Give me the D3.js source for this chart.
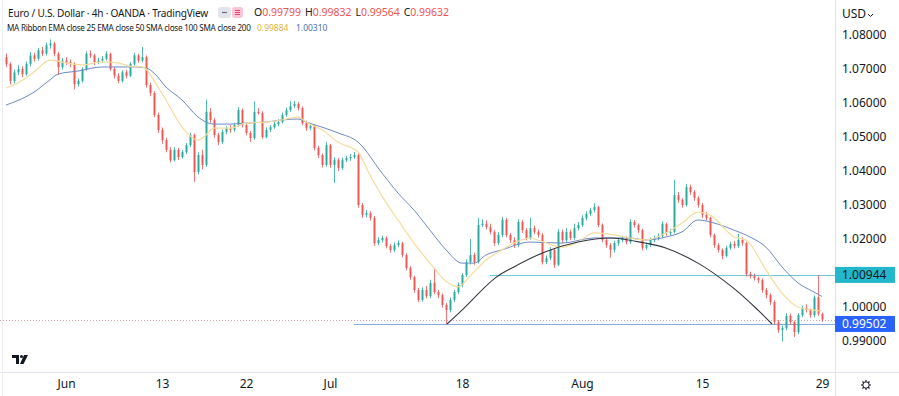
<!DOCTYPE html>
<html>
<head>
<meta charset="utf-8">
<script src="https://cdn.jsdelivr.net/npm/d3@7"></script>
<style>
  body { margin: 0; background: #ffffff; }
  svg { display: block; font-family: "Noto Sans", sans-serif; }
</style>
</head>
<body>
<svg id="chart" width="899" height="396"></svg>
<script>
// EUR/USD 4h candles (one bar every third of a trading day), 25 May -> 29 Aug
const firstOpen = 1.0735;
const closes = [
  1.0715,1.0665,1.0690,1.0700,1.0685,1.0715,1.0740,1.0730,1.0755,1.0745,
  1.0770,1.0775,1.0745,1.0705,1.0725,1.0720,1.0715,1.0655,1.0665,1.0700,
  1.0745,1.0740,1.0720,1.0725,1.0730,1.0745,1.0700,1.0680,1.0665,1.0690,
  1.0680,1.0715,1.0740,1.0725,1.0735,1.0653,1.0629,1.0565,1.0521,1.0491,
  1.0462,1.0432,1.0462,1.0441,1.0456,1.0476,1.0506,1.0397,1.0447,1.0418,
  1.0574,1.0550,1.0506,1.0485,1.0515,1.0526,1.0521,1.0535,1.0579,1.0535,
  1.0512,1.0497,1.0574,1.0570,1.0500,1.0521,1.0529,1.0538,1.0544,1.0565,
  1.0579,1.0591,1.0597,1.0585,1.0541,1.0526,1.0532,1.0468,1.0447,1.0418,
  1.0476,1.0418,1.0432,1.0409,1.0432,1.0438,1.0441,1.0447,1.0300,1.0271,
  1.0276,1.0262,1.0188,1.0197,1.0203,1.0179,1.0168,1.0182,1.0188,1.0153,
  1.0115,1.0088,1.0050,1.0021,1.0050,1.0032,1.0071,1.0044,1.0035,1.0006,
  0.9991,1.0021,1.0044,1.0065,1.0094,1.0132,1.0153,1.0132,1.0241,1.0245,
  1.0235,1.0221,1.0188,1.0212,1.0256,1.0212,1.0197,1.0182,1.0250,1.0226,
  1.0203,1.0232,1.0221,1.0212,1.0132,1.0144,1.0168,1.0124,1.0221,1.0197,
  1.0221,1.0203,1.0232,1.0241,1.0262,1.0274,1.0285,1.0294,1.0241,1.0197,
  1.0182,1.0168,1.0188,1.0197,1.0203,1.0191,1.0250,1.0241,1.0226,1.0174,
  1.0182,1.0197,1.0203,1.0209,1.0244,1.0218,1.0221,1.0329,1.0315,1.0300,
  1.0353,1.0338,1.0321,1.0300,1.0271,1.0262,1.0212,1.0182,1.0168,1.0150,
  1.0174,1.0185,1.0179,1.0197,1.0188,1.0097,1.0091,1.0085,1.0079,1.0050,
  1.0035,1.0015,0.9956,0.9932,0.9938,0.9974,0.9956,0.9926,0.9976,0.9997,
  0.9991,0.9976,1.0028,0.9980,0.99632
];
const highs = [
  1.0745,1.0720,1.0698,1.0712,1.0708,1.0722,1.0750,1.0748,1.0762,1.0765,
  1.0778,1.0787,1.0780,1.0750,1.0732,1.0735,1.0728,1.0720,1.0672,1.0705,
  1.0752,1.0755,1.0745,1.0733,1.0738,1.0752,1.0748,1.0706,1.0688,1.0696,
  1.0698,1.0720,1.0748,1.0745,1.0765,1.0740,1.0660,1.0635,1.0572,1.0528,
  1.0498,1.0470,1.0470,1.0468,1.0462,1.0482,1.0512,1.0510,1.0455,1.0462,
  1.0610,1.0585,1.0556,1.0512,1.0522,1.0532,1.0535,1.0542,1.0588,1.0584,
  1.0540,1.0518,1.0605,1.0585,1.0576,1.0528,1.0535,1.0545,1.0552,1.0572,
  1.0586,1.0605,1.0606,1.0603,1.0590,1.0548,1.0540,1.0536,1.0474,1.0452,
  1.0485,1.0480,1.0440,1.0438,1.0440,1.0445,1.0450,1.0456,1.0452,1.0306,
  1.0285,1.0282,1.0268,1.0205,1.0210,1.0208,1.0185,1.0190,1.0196,1.0192,
  1.0158,1.0120,1.0092,1.0056,1.0058,1.0062,1.0080,1.0115,1.0050,1.0040,
  1.0012,1.0028,1.0050,1.0072,1.0100,1.0140,1.0200,1.0160,1.0262,1.0258,
  1.0255,1.0245,1.0226,1.0220,1.0265,1.0262,1.0218,1.0205,1.0258,1.0256,
  1.0232,1.0262,1.0240,1.0228,1.0218,1.0152,1.0176,1.0174,1.0230,1.0228,
  1.0232,1.0228,1.0245,1.0250,1.0270,1.0282,1.0292,1.0305,1.0298,1.0246,
  1.0204,1.0188,1.0195,1.0204,1.0210,1.0208,1.0258,1.0256,1.0246,1.0230,
  1.0190,1.0204,1.0210,1.0216,1.0252,1.0248,1.0230,1.0374,1.0338,1.0320,
  1.0362,1.0360,1.0344,1.0326,1.0306,1.0280,1.0266,1.0216,1.0188,1.0172,
  1.0180,1.0192,1.0194,1.0215,1.0205,1.0192,1.0104,1.0098,1.0090,1.0084,
  1.0056,1.0040,1.0020,0.9962,0.9945,0.9982,0.9980,0.9960,0.9982,1.0004,
  1.0008,0.9996,1.0034,1.0094,0.99832
];
const lows = [
  1.0705,1.0655,1.0658,1.0682,1.0676,1.0680,1.0708,1.0722,1.0725,1.0738,
  1.0740,1.0760,1.0738,1.0682,1.0698,1.0712,1.0705,1.0640,1.0648,1.0660,
  1.0695,1.0732,1.0712,1.0714,1.0718,1.0725,1.0695,1.0672,1.0658,1.0660,
  1.0672,1.0676,1.0710,1.0718,1.0720,1.0645,1.0620,1.0558,1.0512,1.0480,
  1.0455,1.0425,1.0428,1.0432,1.0436,1.0450,1.0470,1.0368,1.0390,1.0405,
  1.0412,1.0542,1.0498,1.0476,1.0480,1.0508,1.0512,1.0515,1.0530,1.0528,
  1.0505,1.0485,1.0492,1.0566,1.0495,1.0496,1.0515,1.0524,1.0532,1.0540,
  1.0560,1.0574,1.0585,1.0578,1.0535,1.0518,1.0520,1.0460,1.0438,1.0410,
  1.0412,1.0410,1.0365,1.0400,1.0403,1.0426,1.0430,1.0436,1.0292,1.0262,
  1.0264,1.0254,1.0180,1.0182,1.0190,1.0172,1.0160,1.0162,1.0176,1.0146,
  1.0108,1.0080,1.0042,1.0014,1.0016,1.0025,1.0026,1.0038,1.0026,0.9998,
  0.9950,0.9984,1.0015,1.0038,1.0058,1.0088,1.0125,1.0124,1.0128,1.0235,
  1.0228,1.0214,1.0180,1.0182,1.0206,1.0205,1.0188,1.0174,1.0176,1.0218,
  1.0196,1.0198,1.0214,1.0204,1.0125,1.0126,1.0138,1.0115,1.0120,1.0188,
  1.0190,1.0196,1.0198,1.0225,1.0235,1.0255,1.0268,1.0278,1.0235,1.0190,
  1.0174,1.0145,1.0160,1.0180,1.0190,1.0184,1.0186,1.0234,1.0218,1.0166,
  1.0168,1.0176,1.0190,1.0196,1.0204,1.0210,1.0210,1.0216,1.0306,1.0292,
  1.0295,1.0330,1.0312,1.0292,1.0262,1.0254,1.0205,1.0174,1.0160,1.0140,
  1.0146,1.0168,1.0172,1.0174,1.0180,1.0090,1.0084,1.0078,1.0070,1.0042,
  1.0026,1.0006,0.9948,0.9924,0.9899,0.9932,0.9948,0.9912,0.9920,0.9970,
  0.9984,0.9968,0.9970,0.9974,0.99564
];

// MA ribbon: [bar index, value]
const ema25 = [
  [0,1.0644],[3,1.0659],[7,1.0691],[11,1.0726],[15,1.0718],[19,1.0712],[24,1.0721],
  [28,1.0718],[32,1.0706],[34,1.0706],[38,1.0647],[40,1.0609],[44,1.0529],[48,1.0491],
  [50,1.0506],[52,1.0526],[56,1.0526],[60,1.0541],[65,1.0544],[69,1.0550],[73,1.0559],
  [75,1.0544],[79,1.0521],[83,1.0485],[88,1.0456],[91,1.0388],[94,1.0326],[98,1.0256],
  [102,1.0188],[106,1.0129],[110,1.0076],[113,1.0059],[116,1.0091],[120,1.0138],
  [124,1.0168],[127,1.0188],[131,1.0203],[133,1.0197],[139,1.0176],[143,1.0191],
  [147,1.0218],[152,1.0212],[156,1.0203],[160,1.0197],[165,1.0218],[169,1.0247],
  [173,1.0279],[176,1.0271],[182,1.0206],[185,1.0197],[190,1.0109],[194,1.0041],
  [198,1.0000],[202,0.9991],[204,0.99884]
];
const ema50 = [
  [0,1.0594],[7,1.0632],[11,1.0668],[13,1.0685],[18,1.0694],[24,1.0706],[32,1.0706],
  [35,1.0703],[37,1.0688],[40,1.0647],[44,1.0609],[48,1.0559],[50,1.0544],[52,1.0538],
  [56,1.0538],[60,1.0541],[65,1.0544],[69,1.0550],[73,1.0553],[75,1.0544],[79,1.0529],
  [83,1.0512],[88,1.0485],[94,1.0394],[98,1.0335],[102,1.0285],[106,1.0226],[110,1.0168],
  [114,1.0129],[117,1.0129],[120,1.0153],[124,1.0168],[131,1.0191],[139,1.0188],
  [147,1.0203],[156,1.0203],[160,1.0197],[165,1.0206],[169,1.0221],[173,1.0256],
  [177,1.0247],[182,1.0226],[186,1.0206],[190,1.0176],[194,1.0118],[198,1.0071],
  [202,1.0044],[204,1.00310]
];

// rounding-bottom/top arc drawing
const arcPoints = [
  [110.25,0.9950],[114,0.9991],[122.25,1.0085],[126.5,1.0115],[134.75,1.0162],
  [143,1.0191],[151,1.0203],[159.75,1.0188],[164.75,1.0174],[173,1.0129],
  [181.5,1.0059],[188,0.9991],[191.5,0.9950]
];

const priceTicks = [1.08, 1.07, 1.06, 1.05, 1.04, 1.03, 1.02, 1.00, 0.99];
const dayTicks = [15, 39, 60, 81, 114, 144, 174, 204];
const dayLabels = ["Jun", "13", "22", "Jul", "18", "Aug", "15", "29"];

const resistance = { value: 1.00944, from: 121 };
const support = { value: 0.99502, from: 87 };
const lastPrice = 0.99632;
const ohlc = [["O", "0.99799"], ["H", "0.99832"], ["L", "0.99564"], ["C", "0.99632"]];

const upColor = "#26a69a";
const downColor = "#ef5350";
const plotRight = 835;
const plotBottom = 372;

const svg = d3.select("#chart");
const x = d3.scaleLinear().domain([0, 204]).range([6, 822]);
const y = d3.scaleLinear().domain([0.99, 1.08]).range([341, 35]);

// shrink a text's font until it fits the width it has in the picture
const fitText = (sel, width) => {
  let size = +sel.attr("font-size");
  for (let k = 0; k < 4; k++) {
    const len = sel.node().getComputedTextLength();
    if (len <= 0) break;
    size = size * width / len;
    sel.attr("font-size", size.toFixed(2));
  }
};

svg.append("defs").append("clipPath").attr("id", "plot")
  .append("rect").attr("x", 0).attr("y", 0).attr("width", plotRight).attr("height", plotBottom);

const plot = svg.append("g").attr("clip-path", "url(#plot)");

// last price dotted line
plot.append("line")
  .attr("x1", 0).attr("x2", plotRight)
  .attr("y1", Math.round(y(lastPrice)) + 0.5).attr("y2", Math.round(y(lastPrice)) + 0.5)
  .attr("stroke", "#d8a4a4").attr("stroke-dasharray", "1,2");

// horizontal levels
plot.append("line")
  .attr("x1", x(support.from)).attr("x2", plotRight)
  .attr("y1", Math.round(y(support.value)) + 0.5).attr("y2", Math.round(y(support.value)) + 0.5)
  .attr("stroke", "#86acdc").attr("stroke-width", 1);
plot.append("line")
  .attr("x1", x(resistance.from)).attr("x2", plotRight)
  .attr("y1", Math.round(y(resistance.value)) + 0.5).attr("y2", Math.round(y(resistance.value)) + 0.5)
  .attr("stroke", "#6fcbd8").attr("stroke-width", 1);

// candles
const candles = closes.map((c, i) => ({
  i: i,
  o: i === 0 ? firstOpen : closes[i - 1],
  h: highs[i],
  l: lows[i],
  c: c
}));

const bars = plot.append("g").selectAll("g").data(candles).enter().append("g");
bars.append("line")
  .attr("x1", (d) => Math.round(x(d.i)) + 0.5)
  .attr("x2", (d) => Math.round(x(d.i)) + 0.5)
  .attr("y1", (d) => y(d.h))
  .attr("y2", (d) => y(d.l))
  .attr("stroke", (d) => (d.c >= d.o ? upColor : downColor))
  .attr("stroke-opacity", 0.8);
bars.append("rect")
  .attr("x", (d) => Math.round(x(d.i)) - 0.5)
  .attr("width", 2)
  .attr("y", (d) => y(Math.max(d.o, d.c)))
  .attr("height", (d) => Math.max(1, Math.abs(y(d.o) - y(d.c))))
  .attr("fill", (d) => (d.c >= d.o ? upColor : downColor))
  .attr("fill-opacity", 0.92);

// MA ribbon
const maLine = d3.line()
  .x((d) => x(d[0]))
  .y((d) => y(d[1]))
  .curve(d3.curveMonotoneX);

plot.append("path").datum(ema50)
  .attr("d", maLine).attr("fill", "none")
  .attr("stroke", "#6f8bc4").attr("stroke-width", 1);
plot.append("path").datum(ema25)
  .attr("d", maLine).attr("fill", "none")
  .attr("stroke", "#f3dc9e").attr("stroke-width", 1.2);

// arc
plot.append("path").datum(arcPoints)
  .attr("d", d3.line().x((d) => x(d[0])).y((d) => y(d[1])).curve(d3.curveCatmullRom))
  .attr("fill", "none").attr("stroke", "#33363f").attr("stroke-width", 1.1);

// frame lines
svg.append("line").attr("x1", plotRight + 0.5).attr("x2", plotRight + 0.5)
  .attr("y1", 0).attr("y2", 396).attr("stroke", "#e0e3eb");
svg.append("line").attr("x1", 0).attr("x2", 899)
  .attr("y1", plotBottom + 0.5).attr("y2", plotBottom + 0.5).attr("stroke", "#e0e3eb");
svg.append("line").attr("x1", 2.5).attr("x2", 2.5)
  .attr("y1", 0).attr("y2", 396).attr("stroke", "#eceef2");

// price axis
const yAxis = svg.append("g")
  .attr("transform", "translate(" + plotRight + ",0)")
  .call(d3.axisRight(y).tickValues(priceTicks).tickFormat(d3.format(".5f")).tickSize(0).tickPadding(7));
yAxis.select(".domain").remove();
yAxis.selectAll("text")
  .attr("fill", "#131722").attr("font-size", 12)
  .attr("font-family", "Noto Sans, sans-serif");

// price labels
const priceTag = (value, bg, fg) => {
  const g = svg.append("g").attr("transform", "translate(" + plotRight + "," + y(value) + ")");
  g.append("rect").attr("x", 0).attr("y", -8).attr("width", 60).attr("height", 16).attr("fill", bg);
  g.append("text").attr("x", 7).attr("dy", "0.35em")
    .attr("font-size", 12).attr("fill", fg).text(d3.format(".5f")(value));
};
priceTag(resistance.value, "#22b7ca", "#131722");
priceTag(support.value, "#2962ff", "#ffffff");

// time axis
const xAxis = svg.append("g")
  .attr("transform", "translate(0," + plotBottom + ")")
  .call(d3.axisBottom(x).tickValues(dayTicks).tickFormat((d, i) => dayLabels[i]).tickSize(0).tickPadding(7));
xAxis.select(".domain").remove();
xAxis.selectAll("text")
  .attr("fill", "#131722").attr("font-size", 12)
  .attr("font-family", "Noto Sans, sans-serif");

// currency label
svg.append("text").attr("x", 842).attr("y", 18)
  .attr("font-size", 12).attr("fill", "#131722").text("USD");
svg.append("path").attr("d", "M868 14 l2.5 2.5 l2.5 -2.5")
  .attr("fill", "none").attr("stroke", "#131722").attr("stroke-width", 1);

// settings gear
const gear = svg.append("g").attr("transform", "translate(866,385)");
gear.append("circle").attr("r", 3.2).attr("fill", "none").attr("stroke", "#131722").attr("stroke-width", 1);
d3.range(8).forEach((k) => {
  const a = (k * Math.PI) / 4;
  gear.append("line")
    .attr("x1", Math.cos(a) * 3.2).attr("y1", Math.sin(a) * 3.2)
    .attr("x2", Math.cos(a) * 5).attr("y2", Math.sin(a) * 5)
    .attr("stroke", "#131722").attr("stroke-width", 1.2);
});

// logo
const logo = svg.append("g").attr("fill", "#131722");
logo.append("path").attr("d", "M12 355h7v9h-3v-6h-4z");
logo.append("circle").attr("cx", 21.5).attr("cy", 356.5).attr("r", 1.5);
logo.append("path").attr("d", "M24 355h4l-4.5 9h-3.5z");

// header
const title = svg.append("text").attr("x", 8).attr("y", 17)
  .attr("font-size", 11).attr("fill", "#131722").attr("letter-spacing", -0.2)
  .text("Euro / U.S. Dollar · 4h · OANDA · TradingView");
fitText(title, 200);

svg.append("rect").attr("x", 218).attr("y", 7).attr("width", 13).attr("height", 11)
  .attr("rx", 3).attr("fill", "#e3e5ea");
svg.append("line").attr("x1", 222).attr("x2", 227).attr("y1", 12.5).attr("y2", 12.5)
  .attr("stroke", "#6a6d78").attr("stroke-width", 1.2);
svg.append("rect").attr("x", 232).attr("y", 7).attr("width", 11).attr("height", 11)
  .attr("rx", 3).attr("fill", "#f9c6d6");
[10.5, 12.5, 14.5].forEach((yy) => {
  svg.append("line").attr("x1", 235).attr("x2", 240).attr("y1", yy).attr("y2", yy)
    .attr("stroke", "#e8407a").attr("stroke-width", 1);
});

const ohlcText = svg.append("text").attr("x", 254).attr("y", 16)
  .attr("font-size", 10);
ohlc.forEach((p, k) => {
  ohlcText.append("tspan").attr("fill", "#131722").attr("dx", k === 0 ? 0 : 4).text(p[0]);
  ohlcText.append("tspan").attr("fill", downColor).text(p[1]);
});
fitText(ohlcText, 183);

const maTitle = svg.append("text").attr("x", 7).attr("y", 31)
  .attr("font-size", 9).attr("fill", "#131722").attr("letter-spacing", -0.25)
  .text("MA Ribbon EMA close 25 EMA close 50 SMA close 100 SMA close 200");
fitText(maTitle, 244);
svg.append("text").attr("x", 257).attr("y", 31)
  .attr("font-size", 8.5).attr("fill", "#e0b43a").text("0.99884");
svg.append("text").attr("x", 296).attr("y", 31)
  .attr("font-size", 8.5).attr("fill", "#4a6fb5").text("1.00310");
</script>
</body>
</html>
